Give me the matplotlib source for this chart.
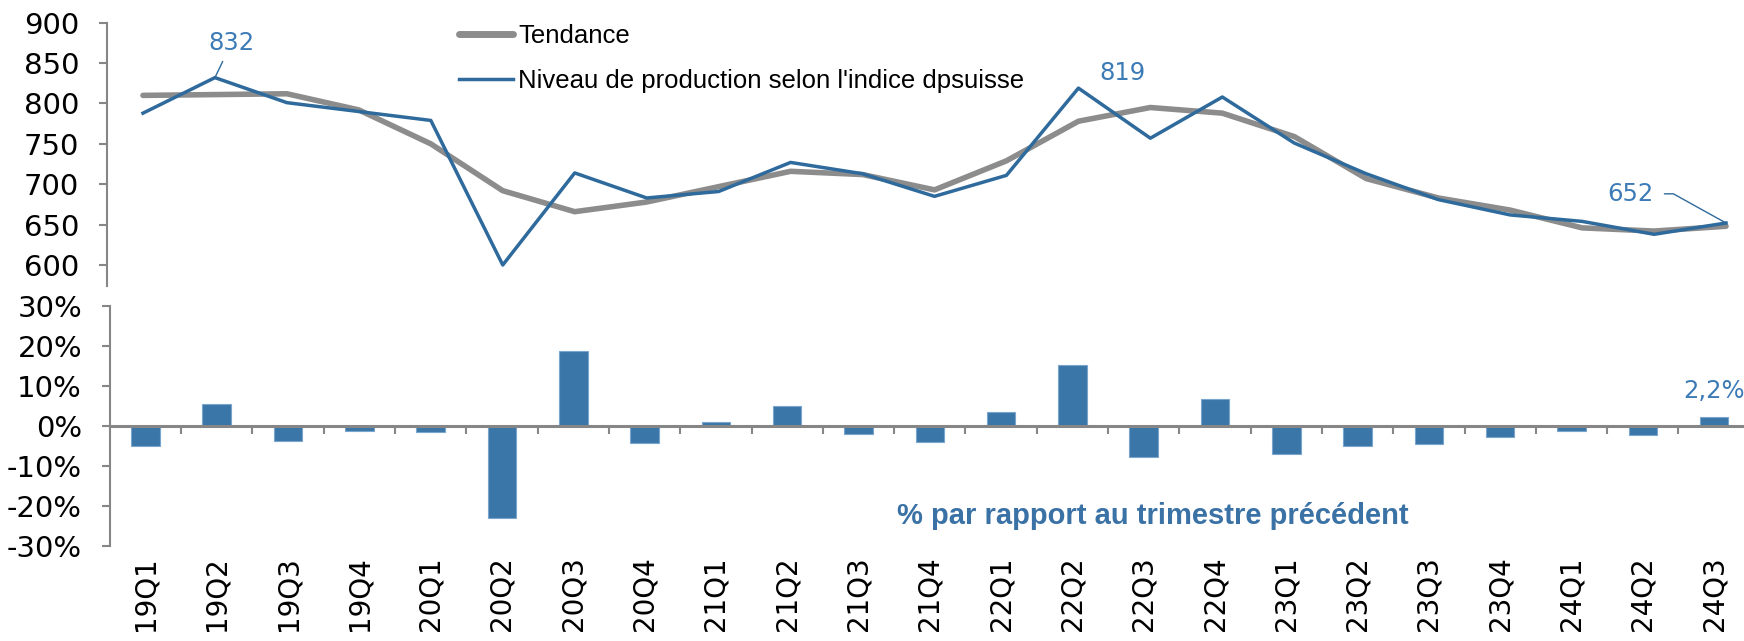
import matplotlib
matplotlib.use('Agg')
import matplotlib.pyplot as plt
import numpy as np

# quarters
cats = ['19Q1', '19Q2', '19Q3', '19Q4', '20Q1', '20Q2', '20Q3', '20Q4',
        '21Q1', '21Q2', '21Q3', '21Q4', '22Q1', '22Q2', '22Q3', '22Q4',
        '23Q1', '23Q2', '23Q3', '23Q4', '24Q1', '24Q2', '24Q3']
# production level (dpsuisse index)
prod = [788, 832, 801, 790, 779, 600, 714, 683, 691, 727, 713, 685,
        711, 819, 757, 808, 751, 713, 681, 662, 654, 638, 652]
# trend
trend = [810, 811, 812, 792, 750, 692, 666, 678, 697, 716, 712, 693,
         729, 778, 795, 788, 759, 707, 683, 668, 646, 642, 648]
# % change vs previous quarter
pct = [-4.9, 5.5, -3.8, -1.3, -1.4, -23.0, 18.8, -4.2, 1.1, 5.1, -1.9, -3.9,
       3.6, 15.3, -7.7, 6.7, -7.0, -5.1, -4.5, -2.8, -1.3, -2.3, 2.2]

top_ticks = [600, 650, 700, 750, 800, 850, 900]
bot_ticks = [-30, -20, -10, 0, 10, 20, 30]

BLUE = '#2f6a9c'
BAR = '#3a76a8'
LBL = '#3d7bb6'
GREY = '#8c8c8c'
AX = '#868686'

plt.rcParams['font.family'] = ['DejaVu Sans']
arial = ['Liberation Sans', 'DejaVu Sans']

x = np.arange(len(cats))
W, H = 1744, 641
fig = plt.figure(figsize=(W / 100, H / 100), dpi=100)

ax1 = fig.add_axes([107 / W, 1 - 286 / H, 1655 / W, (286 - 22.7) / H])
ax2 = fig.add_axes([109.8 / W, 1 - 546 / H, 1640 / W, 240 / H])

# top panel: lines
ax1.plot(x, trend, color=GREY, lw=4, label='Tendance', solid_capstyle='round')
ax1.plot(x, prod, color=BLUE, lw=2.5, label="Niveau de production selon l'indice dpsuisse")
ax1.set_xlim(-0.5, 22.5)
ax1.set_ylim(574, 900)
ax1.set_yticks(top_ticks)
ax1.set_yticklabels([str(t) for t in top_ticks])
for s in ['top', 'right', 'bottom']:
    ax1.spines[s].set_visible(False)
ax1.spines['left'].set_color(AX)
ax1.spines['left'].set_linewidth(1.5)
ax1.tick_params(axis='y', direction='out', length=6, width=1.5, color=AX,
                labelsize=21, pad=14)
ax1.tick_params(axis='x', bottom=False, labelbottom=False)

leg = ax1.legend(loc='upper left', bbox_to_anchor=(459 / W, 1 - 24 / H),
                 bbox_transform=fig.transFigure, frameon=False,
                 prop={'family': arial, 'size': 18.5}, handlelength=2.1,
                 handletextpad=0.2, labelspacing=0.8, borderpad=0, borderaxespad=0)
leg.get_lines()[0].set_linewidth(5)

ax1.annotate('832', xy=(1, prod[1]), xytext=(12, 25), textcoords='offset points',
             ha='center', va='center', color=LBL, fontsize=17.5,
             arrowprops=dict(arrowstyle='-', color=BLUE, lw=1, shrinkA=3, shrinkB=0))
ax1.annotate('819', xy=(13, prod[13]), xytext=(32, 11), textcoords='offset points',
             ha='center', va='center', color=LBL, fontsize=17.5)
ax1.annotate('652', xy=(22, prod[22]), xytext=(-69, 21), textcoords='offset points',
             ha='center', va='center', color=LBL, fontsize=17.5,
             arrowprops=dict(arrowstyle='-', color=BLUE, lw=1, shrinkA=6, shrinkB=0,
                             connectionstyle='angle,angleA=0,angleB=-29,rad=0'))

# bottom panel: bars
ax2.bar(x, np.array(pct) / 100, width=0.4, color=BAR, edgecolor='#7aa5cc', linewidth=0.8, zorder=2)
ax2.set_xlim(-0.5, 22.5)
ax2.set_ylim(-0.3, 0.3)
ax2.set_yticks([t / 100 for t in bot_ticks])
ax2.set_yticklabels([f'{t}%' for t in bot_ticks])
for s in ['top', 'right']:
    ax2.spines[s].set_visible(False)
ax2.spines['bottom'].set_position(('data', 0))
for s in ['left', 'bottom']:
    ax2.spines[s].set_color(AX)
    ax2.spines[s].set_linewidth(1.5)
ax2.spines['bottom'].set_linewidth(2.2)
ax2.spines['bottom'].set_zorder(3)
ax2.tick_params(axis='y', direction='out', length=6, width=1.5, color=AX,
                labelsize=21, pad=14)
ax2.set_xticks(x)
ax2.set_xticklabels(cats, rotation=90, fontsize=20)
ax2.set_xticks(x[:-1] + 0.5, minor=True)
ax2.tick_params(axis='x', which='major', length=0, pad=94)
ax2.tick_params(axis='x', which='minor', direction='out', length=6, width=1.5, color=AX)

ax2.annotate('2,2%', xy=(22, pct[22] / 100), xytext=(0, 19), textcoords='offset points',
             ha='center', va='center', color=LBL, fontsize=17.5)
ax2.text(0.636, 0.125, '% par rapport au trimestre précédent', transform=ax2.transAxes,
         ha='center', va='center', color='#3a72a6', fontsize=21, fontweight='bold',
         family=arial)

fig.savefig('out.png', dpi=100)
